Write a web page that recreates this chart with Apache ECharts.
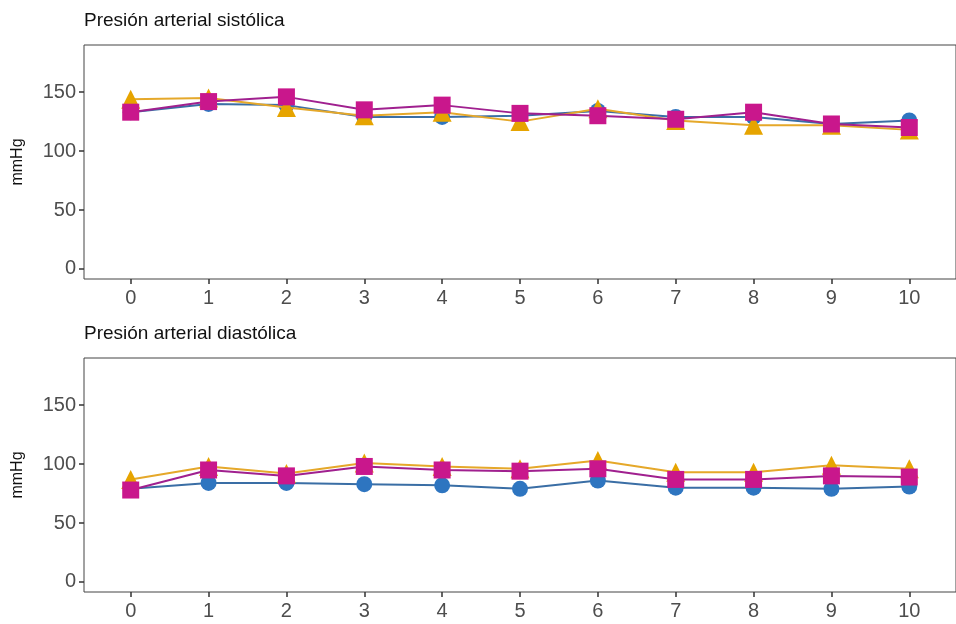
<!DOCTYPE html>
<html>
<head>
<meta charset="utf-8">
<script src="https://cdn.jsdelivr.net/npm/echarts@6/dist/echarts.min.js"></script>
<style>
html,body{margin:0;padding:0;background:#fff;}
#c{width:956px;height:624px;}
</style>
</head>
<body>
<div id="c"></div>
<script>
// ---- data ----
const xValues = [0, 1, 2, 3, 4, 5, 6, 7, 8, 9, 10];
const xTicks = [0, 1, 2, 3, 4, 5, 6, 7, 8, 9, 10];
const yTicks = [0, 50, 100, 150];
const panelTitles = ['Presión arterial sistólica', 'Presión arterial diastólica'];
const yName = 'mmHg';

// Systolic
const sysCircle   = [133, 140, 139, 129, 129, 130, 134, 129, 129, 123, 126];
const sysTriangle = [144, 145, 137, 130, 133, 125, 136, 126, 122, 122, 118];
const sysSquare   = [133, 142, 146, 135, 139, 132, 130, 127, 133, 123, 120];
// Diastolic
const diaCircle   = [79, 84, 84, 83, 82, 79, 86, 80, 80, 79, 81];
const diaTriangle = [87, 98, 92, 101, 98, 96, 103, 93, 93, 99, 96];
const diaSquare   = [78, 95, 90, 98, 95, 94, 96, 87, 87, 90, 89];

// ---- styles ----
const groups = [
  {symbol: 'circle',   size: 16, color: '#2E75C0', line: '#3A6EA5'},
  {symbol: 'triangle', size: 19, color: '#E6A400', line: '#E5A82A'},
  {symbol: 'rect',     size: 17, color: '#C9178C', line: '#A0208F'}
];
const panels = [
  {top: 45,  values: [sysCircle, sysTriangle, sysSquare]},
  {top: 358, values: [diaCircle, diaTriangle, diaSquare]}
];
const FONT = '"Liberation Sans", Arial, sans-serif';

const grid = [], xAxis = [], yAxis = [], series = [], title = [];
panels.forEach((p, pi) => {
  grid.push({left: 84, right: -8, top: p.top, height: 234, show: true,
    borderColor: '#444', borderWidth: 1, backgroundColor: 'transparent'});
  title.push({text: panelTitles[pi], left: 79, top: p.top - 39,
    textStyle: {fontFamily: FONT, fontSize: 19, fontWeight: 'normal', color: '#111'}});
  xAxis.push({type: 'value', gridIndex: pi, min: -0.6, max: 10.6,
    axisLine: {show: false, onZero: false}, splitLine: {show: false},
    axisTick: {show: true, length: 5, customValues: xTicks, lineStyle: {color: '#333', width: 1.5}},
    axisLabel: {customValues: xTicks, margin: 9, fontFamily: FONT, fontSize: 20, color: '#4D4D4D'}});
  yAxis.push({type: 'value', gridIndex: pi, min: -8.5, max: 190,
    name: yName, nameLocation: 'middle', nameGap: 58, nameRotate: 90,
    nameTextStyle: {fontFamily: FONT, fontSize: 16, color: '#111'},
    axisLine: {show: false, onZero: false}, splitLine: {show: false},
    axisTick: {show: true, length: 5, customValues: yTicks, lineStyle: {color: '#333', width: 1.5}},
    axisLabel: {customValues: yTicks, margin: 8, fontFamily: FONT, fontSize: 20, color: '#4D4D4D'}});
  p.values.forEach((vals, gi) => {
    const g = groups[gi];
    series.push({type: 'line', xAxisIndex: pi, yAxisIndex: pi,
      data: xValues.map((x, i) => [x, vals[i]]),
      symbol: g.symbol, symbolSize: g.size, showAllSymbol: true,
      itemStyle: {color: g.color, borderWidth: 0},
      lineStyle: {color: g.line, width: 2},
      z: 2 + gi, animation: false, silent: true});
  });
});

const chart = echarts.init(document.getElementById('c'), null, {renderer: 'canvas'});
chart.setOption({backgroundColor: '#fff', animation: false, title, grid, xAxis, yAxis, series});
</script>
</body>
</html>
